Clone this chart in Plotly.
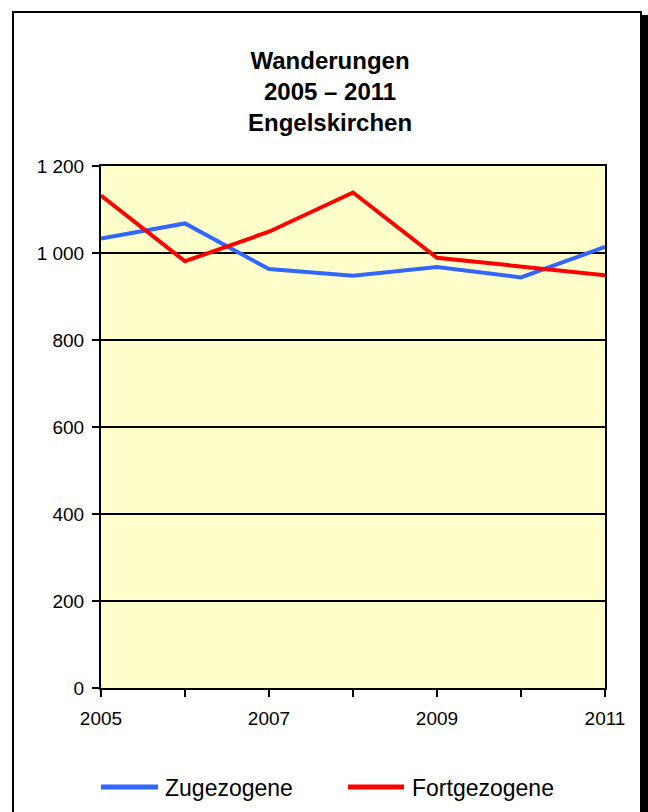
import plotly.graph_objects as go

years = [2005, 2006, 2007, 2008, 2009, 2010, 2011]
zugezogene = [1033, 1068, 963, 948, 968, 944, 1014]
fortgezogene = [1132, 981, 1049, 1139, 989, 968, 949]

x_tick_vals = [2005, 2006, 2007, 2008, 2009, 2010, 2011]
x_tick_text = ["2005", "", "2007", "", "2009", "", "2011"]
y_tick_vals = [0, 200, 400, 600, 800, 1000, 1200]
y_tick_text = ["0", "200", "400", "600", "800", "1 000", "1 200"]

title_lines = ["Wanderungen", "2005 – 2011", "Engelskirchen"]
series_names = ["Zugezogene", "Fortgezogene"]
series_colors = ["#3366FF", "#FF0000"]

W, H = 648, 812
L, R, T, B = 101, 605, 166, 688  # plot area box in page pixels


def px(x):
    return (x - L) / (R - L)


def py(y):
    return (B - y) / (B - T)


FONT = "Liberation Sans, Arial, sans-serif"

fig = go.Figure()
for name, vals, col in zip(series_names, [zugezogene, fortgezogene], series_colors):
    fig.add_trace(go.Scatter(x=years, y=vals, mode="lines", name=name,
                             line=dict(color=col, width=4), showlegend=False))

shapes = [
    # outer chart frame
    dict(type="rect", xref="paper", yref="paper", x0=px(13), x1=px(641), y0=py(840), y1=py(12),
         line=dict(color="black", width=2), fillcolor="rgba(0,0,0,0)"),
    # drop shadow on the right
    dict(type="rect", xref="paper", yref="paper", x0=px(642), x1=px(660), y0=py(840), y1=py(15),
         line=dict(width=0), fillcolor="black"),
]
annotations = [
    dict(text="<b>" + "<br>".join(title_lines) + "</b>", xref="paper", yref="paper",
         x=px(329.5), y=py(92), xanchor="center", yanchor="middle", showarrow=False,
         font=dict(family=FONT, size=24, color="black"), align="center"),
]
legend_pos = [(101, 158, 163), (348, 404, 410)]
for (x0, x1, tx), name, col in zip(legend_pos, series_names, series_colors):
    shapes.append(dict(type="line", xref="paper", yref="paper", x0=px(x0), x1=px(x1),
                       y0=py(787), y1=py(787), line=dict(color=col, width=5)))
    annotations.append(dict(text=name, xref="paper", yref="paper", x=px(tx), y=py(788),
                            xanchor="left", yanchor="middle", showarrow=False,
                            font=dict(family=FONT, size=23, color="black")))

fig.update_layout(
    width=W, height=H,
    margin=dict(l=L, r=W - R, t=T, b=H - B, pad=0),
    paper_bgcolor="white", plot_bgcolor="#FFFFCC",
    font=dict(family=FONT, size=19, color="black"),
    shapes=shapes, annotations=annotations,
    showlegend=False,
)
fig.update_xaxes(range=[2005, 2011], tickvals=x_tick_vals, ticktext=x_tick_text,
                 showgrid=False, zeroline=False, showline=True, mirror=True,
                 linecolor="black", linewidth=2, ticks="outside", ticklen=7,
                 tickwidth=2, tickcolor="black", tickfont=dict(size=19),
                 ticklabelstandoff=5)
fig.update_yaxes(range=[0, 1200], tickvals=y_tick_vals, ticktext=y_tick_text,
                 showgrid=True, gridcolor="black", gridwidth=1.5, zeroline=False,
                 showline=True, mirror=True, linecolor="black", linewidth=2,
                 ticks="outside", ticklen=7, tickwidth=2, tickcolor="black",
                 tickfont=dict(size=19), ticklabelstandoff=4)

fig.write_html("out.html", config={"displayModeBar": False},
               post_script="document.body.style.margin='0';document.body.style.overflow='hidden';")
